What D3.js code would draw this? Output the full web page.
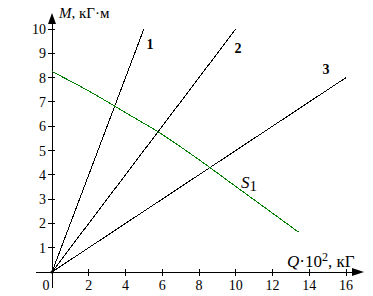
<!DOCTYPE html>
<html>
<head>
<meta charset="utf-8">
<script src="https://cdn.jsdelivr.net/npm/d3@7"></script>
<style>
  body { margin: 0; background: #fff; }
  text { font-family: "Liberation Serif", "Times New Roman", serif; }
</style>
</head>
<body>
<script>
const width = 373;
const height = 296;

// ray end points (all rays start at origin)
const rayNames = ["1", "2", "3"];
const rayEndQ = [5, 10, 16];
const rayEndM = [10, 10, 8];

// S1 curve
const curveQ = [0, 2, 4, 6, 8, 10, 12, 13.4];
const curveM = [8.25, 7.45, 6.56, 5.66, 4.62, 3.52, 2.42, 1.65];

const xTicks = [2, 4, 6, 8, 10, 12, 14, 16];
const yTicks = [1, 2, 3, 4, 5, 6, 7, 8, 9, 10];

const x = d3.scaleLinear().domain([0, 16]).range([52, 346]);
const y = d3.scaleLinear().domain([0, 10]).range([272, 29]);

const svg = d3.select("body").append("svg")
    .attr("width", width)
    .attr("height", height);

// axes lines
svg.append("line")
    .attr("x1", 36).attr("x2", 356)
    .attr("y1", y(0)).attr("y2", y(0))
    .attr("stroke", "#000").attr("shape-rendering", "crispEdges");
svg.append("line")
    .attr("x1", x(0)).attr("x2", x(0))
    .attr("y1", 288).attr("y2", 20)
    .attr("stroke", "#000").attr("shape-rendering", "crispEdges");

// arrows
svg.append("path")
    .attr("d", `M${x(0)},13 L${x(0) - 4},24 L${x(0) + 4},24 Z`)
    .attr("fill", "#000");
svg.append("path")
    .attr("d", `M364,${y(0)} L352,${y(0) - 4} L352,${y(0) + 4} Z`)
    .attr("fill", "#000");

// ticks
const xAxis = svg.append("g");
xTicks.forEach(t => {
    xAxis.append("line")
        .attr("x1", x(t)).attr("x2", x(t))
        .attr("y1", y(0) - 3).attr("y2", y(0) + 4)
        .attr("stroke", "#000").attr("shape-rendering", "crispEdges");
    xAxis.append("text")
        .attr("x", x(t)).attr("y", 290)
        .attr("text-anchor", "middle")
        .style("font-size", "14px")
        .text(t);
});
xAxis.append("text")
    .attr("x", 46).attr("y", 290)
    .attr("text-anchor", "middle")
    .style("font-size", "14px")
    .text("0");

const yAxis = svg.append("g");
yTicks.forEach(t => {
    yAxis.append("line")
        .attr("x1", x(0) - 4).attr("x2", x(0) + 3)
        .attr("y1", y(t)).attr("y2", y(t))
        .attr("stroke", "#000").attr("shape-rendering", "crispEdges");
    yAxis.append("text")
        .attr("x", 46).attr("y", y(t) + 5)
        .attr("text-anchor", "end")
        .style("font-size", "14px")
        .text(t);
});

// axis titles
const mLabel = svg.append("text")
    .attr("x", 59).attr("y", 18)
    .style("font-size", "15px");
mLabel.append("tspan").style("font-style", "italic").text("M");
mLabel.append("tspan").text(", кГ·м");

const qLabel = svg.append("text")
    .attr("x", 287).attr("y", 267)
    .style("font-size", "17px");
qLabel.append("tspan").style("font-style", "italic").text("Q");
qLabel.append("tspan").text("·10");
qLabel.append("tspan").attr("dy", -6).style("font-size", "12px").text("2");
qLabel.append("tspan").attr("dy", 6).text(", кГ");

// rays
const rays = svg.append("g");
rayNames.forEach((name, i) => {
    rays.append("line")
        .attr("x1", x(0)).attr("y1", y(0))
        .attr("x2", x(rayEndQ[i])).attr("y2", y(rayEndM[i]))
        .attr("stroke", "#000")
        .attr("stroke-width", 1)
        .attr("shape-rendering", "crispEdges");
});
svg.append("circle")
    .attr("cx", x(0)).attr("cy", y(0)).attr("r", 1.5)
    .attr("fill", "#000");

// ray labels
const labelPos = [[150, 49], [238, 53], [326, 74]];
rayNames.forEach((name, i) => {
    svg.append("text")
        .attr("x", labelPos[i][0]).attr("y", labelPos[i][1])
        .attr("text-anchor", "middle")
        .style("font-size", "14px")
        .style("font-weight", "bold")
        .text(name);
});

// S1 curve
const curve = d3.line()
    .x(d => x(d[0]))
    .y(d => y(d[1]))
    .curve(d3.curveMonotoneX);
svg.append("path")
    .datum(curveQ.map((q, i) => [q, curveM[i]]))
    .attr("d", curve)
    .attr("fill", "none")
    .attr("stroke", "#008000")
    .attr("stroke-width", 1)
    .attr("shape-rendering", "crispEdges");

const sLabel = svg.append("text")
    .attr("x", 241).attr("y", 188)
    .style("font-size", "17px");
sLabel.append("tspan").style("font-style", "italic").text("S");
sLabel.append("tspan").attr("dy", 3).style("font-size", "15px").text("1");
</script>
</body>
</html>
